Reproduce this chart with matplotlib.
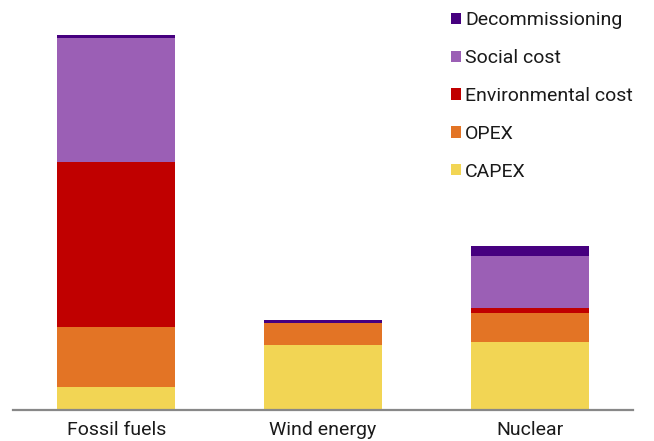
import matplotlib
matplotlib.use("Agg")
import matplotlib.pyplot as plt
import numpy as np

categories = ["Fossil fuels", "Wind energy", "Nuclear"]
series_names = ["CAPEX", "OPEX", "Environmental cost", "Social cost", "Decommissioning"]
capex = [22.7, 64.3, 68.0]
opex = [60.3, 22.0, 28.7]
environmental = [164.7, 0.0, 4.7]
social = [124.0, 0.6, 52.0]
decommissioning = [2.7, 2.7, 10.3]
colors = ["#F2D554", "#E37425", "#C00000", "#9B5FB5", "#46007F"]

plt.rcParams["font.family"] = ["Roboto", "DejaVu Sans"]

W, H = 654, 441
fig = plt.figure(figsize=(W / 100, H / 100), dpi=100)
ax = fig.add_axes([13 / W, 31.5 / H, 620 / W, 400 / H])

x = np.arange(len(categories))
bottom = np.zeros(len(categories))
handles = []
for name, vals, col in zip(series_names,
                           [capex, opex, environmental, social, decommissioning],
                           colors):
    b = ax.bar(x, vals, width=0.571, bottom=bottom, color=col, label=name,
               linewidth=0)
    handles.append(b)
    bottom += np.array(vals)

ax.set_xlim(-0.5, 2.5)
ax.set_ylim(0, 400)
ax.set_yticks([])
ax.set_xticks(x)
ax.set_xticklabels(categories, fontsize=14, color="#1a1a1a")
ax.tick_params(axis="x", length=0, pad=8)
for s in ["top", "right", "left"]:
    ax.spines[s].set_visible(False)
ax.spines["bottom"].set_color("#888888")
ax.spines["bottom"].set_linewidth(1.6)

leg = fig.legend(handles[::-1], series_names[::-1],
                 loc="upper left", bbox_to_anchor=(443 / W, 1 - 3.5 / H),
                 frameon=False, fontsize=14, handlelength=0.52,
                 handleheight=0.52, handletextpad=0.22, labelspacing=1.02,
                 borderaxespad=0)
for t in leg.get_texts():
    t.set_color("#1a1a1a")

fig.savefig("out.png", dpi=100)
